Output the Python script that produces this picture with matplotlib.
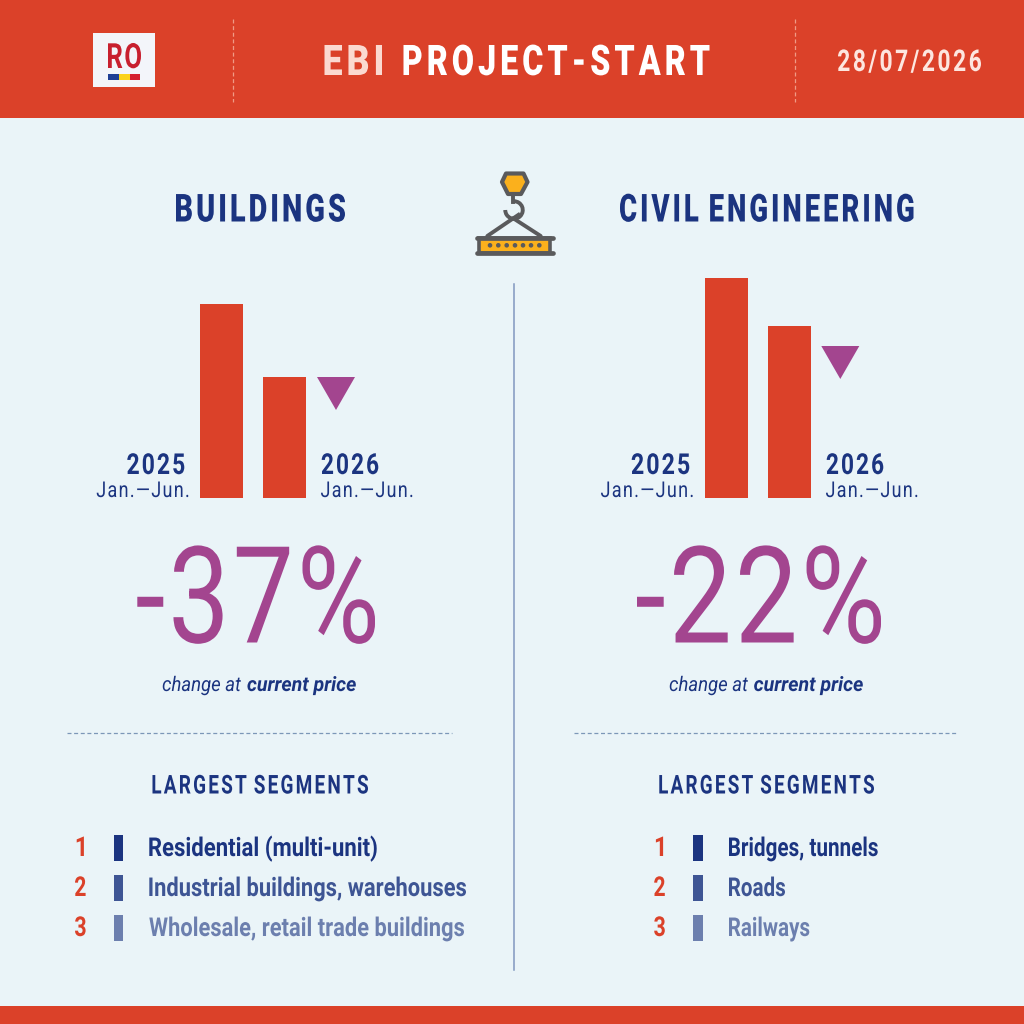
import matplotlib
matplotlib.use("Agg")
import numpy as np
import matplotlib.pyplot as plt
from matplotlib.path import Path
from matplotlib.patches import Rectangle, Polygon, Arc, Circle
from matplotlib.patheffects import AbstractPathEffect
from matplotlib.transforms import IdentityTransform

# values (the chart has no axis, so the unit is arbitrary)
years = ["2025", "2026"]
period = "Jan.\u2014Jun."
buildings_vals = [194, 121]
civil_vals = [220, 172]
changes = ["-37%", "-22%"]
panel_titles = ["BUILDINGS", "CIVIL ENGINEERING"]
buildings_segments = ["Residential (multi-unit)", "Industrial buildings, warehouses", "Wholesale, retail trade buildings"]
civil_segments = ["Bridges, tunnels", "Roads", "Railways"]
ranks = ["1", "2", "3"]

RED = "#db4129"
BG = "#eaf4f8"
NAVY = "#1b3480"
PURPLE = "#a3458f"
GREY = "#5a5a5c"
AMBER = "#fbb01c"
seg_colors = ["#1b3480", "#3e5594", "#6c7fae"]

fig = plt.figure(figsize=(10.24, 10.24), dpi=100, facecolor=BG)
ax = fig.add_axes([0, 0, 1, 1])
ax.set_xlim(0, 1024)
ax.set_ylim(1024, 0)
ax.axis("off")


class FitWidth(AbstractPathEffect):
    # no condensed font here, so squeeze the glyph outlines to span x0..x1 with some tracking
    def __init__(self, x0, x1, track=0):
        self.x0, self.x1, self.track = x0, x1, track

    def draw_path(self, renderer, gc, tpath, affine, rgbFace=None):
        p = affine.transform_path(tpath)
        v = p.vertices.copy()
        codes = p.codes
        solid = codes != Path.CLOSEPOLY
        starts = list(np.where(codes == Path.MOVETO)[0]) + [len(v)]
        # contours overlapping in x belong to one glyph
        glyphs = []
        right = -1e9
        for a, b in zip(starts[:-1], starts[1:]):
            xs = v[a:b][solid[a:b], 0]
            if xs.min() >= right:
                glyphs.append([])
            glyphs[-1].append((a, b))
            right = max(right, xs.max())
        left = v[solid, 0].min()
        w = v[solid, 0].max() - left
        sx = (self.x1 - self.x0 - (len(glyphs) - 1) * self.track) / w
        v[:, 0] = self.x0 + (v[:, 0] - left) * sx
        for k, g in enumerate(glyphs):
            for a, b in g:
                v[a:b, 0] += k * self.track
        renderer.draw_path(gc, Path(v, codes), IdentityTransform(), rgbFace)


def label(s, x0, x1, y, size, color=NAVY, weight="bold", track=0, style="normal"):
    t = ax.text((x0 + x1) / 2, y, s, fontsize=size, color=color, fontweight=weight, ha="center",
                va="baseline", family="Roboto", style=style)
    t.set_path_effects([FitWidth(x0, x1, track)])
    return t


# header and footer
ax.add_patch(Rectangle((0, 0), 1024, 118, color=RED, lw=0))
ax.add_patch(Rectangle((0, 1006), 1024, 18, color=RED, lw=0))
for x in [232.8, 794.8]:
    ax.plot([x, x], [19, 102], color="#f09a85", lw=0.9, ls=(0, (3.2, 2.1)))

# logo
ax.add_patch(Rectangle((93, 33), 62, 54, color="#f3f5fa", lw=0))
label("RO", 108, 141, 68, 25, "#c8202f", track=1.5)
for x, c in zip([108, 119, 129.5], ["#1f3f95", "#fbd21c", "#d5202f"]):
    ax.add_patch(Rectangle((x, 74), 10.7, 6, color=c, lw=0))

# title
label("EBI", 324.5, 382, 75, 30.4, "#fbd9d0", "black", track=4)
label("PROJECT-START", 403.5, 709.5, 75, 30.4, "white", "black", track=4)
label("28/07/2026", 838, 981, 71, 21.6, "#fde6df", "bold", track=2.5)

# crane icon
ax.add_patch(Polygon([(506, 173.5), (523.5, 173.5), (527.5, 182), (521, 194), (508, 194), (502, 182)],
                     closed=True, fc=AMBER, ec=GREY, lw=3, joinstyle="round"))
ax.plot([513.3, 513.3], [196, 201.5], color=GREY, lw=2.8)
ax.add_patch(Arc((514, 210), 17.5, 17.5, theta1=-90, theta2=180, color=GREY, lw=2.8))
ax.plot([487.3, 513.3, 540.7], [236, 218.3, 236], color=GREY, lw=2.8, solid_capstyle="round")
ax.plot([513.3, 518.5], [218.3, 214.8], color=GREY, lw=2.8)
ax.add_patch(Rectangle((479, 238), 71, 14.5, fc=AMBER, ec=GREY, lw=2.6))
ax.plot([476.5, 553], [237.7, 237.7], color=GREY, lw=3.4, solid_capstyle="round")
ax.plot([476.5, 553], [252.5, 252.5], color=GREY, lw=3.4, solid_capstyle="round")
for x in [490, 498.3, 506.7, 515, 523, 531, 539.3]:
    ax.add_patch(Circle((x, 245.3), 2.3, color=GREY, lw=0))

# centre divider
ax.plot([514.3, 514.3], [284, 970], color="#8197bf", lw=1.1)


def add_bars(left, vals):
    # y scale shared by both panels: 0 at pixel 498, 220 at pixel 278
    bar_ax = fig.add_axes([left / 1024, 1 - 498 / 1024, 106 / 1024, 220 / 1024])
    bar_ax.set_xlim(0, 106)
    bar_ax.set_ylim(0, 220)
    bar_ax.axis("off")
    bar_ax.bar([21.5, 84.5], vals, width=43, color=RED)


# layout of the two panels, pixel positions measured on the reference
panels = [
    dict(vals=buildings_vals, segs=buildings_segments, bar=200, tri=(317, 377), title=(176, 345),
         y0=(127.3, 184.3), y1=(321.7, 378.3), p0=(96.7, 188.3), p1=(321, 412.3), big=(137.3, 375),
         cap0=(162.7, 241), cap1=(247.3, 356), rule=(67, 452), head=(152.5, 368), rank=80.3, mark=113.7,
         seg_x=149.3, seg_end=[376.7, 466, 464]),
    dict(vals=civil_vals, segs=civil_segments, bar=705, tri=(821.3, 346), title=(620, 913.5),
         y0=(631.7, 689.3), y1=(826.7, 883.3), p0=(601, 692.7), p1=(826, 917.3), big=(637, 881),
         cap0=(669.7, 748), cap1=(754, 863), rule=(574, 958), head=(659.3, 874), rank=659.5, mark=693,
         seg_x=729, seg_end=[877.7, 785, 809.3]),
]
for i, pn in enumerate(panels):
    label(panel_titles[i], *pn["title"], 221.5, 27.8, NAVY, "black", track=3)
    add_bars(pn["bar"], pn["vals"])
    tx, ty = pn["tri"]
    ax.add_patch(Polygon([(tx, ty), (tx + 38, ty), (tx + 19, ty + 33)], closed=True, fc=PURPLE, ec="none"))
    # year labels
    label(years[0], *pn["y0"], 474, 20.8, NAVY, "bold", track=2)
    label(years[1], *pn["y1"], 474, 20.8, NAVY, "bold", track=2)
    label(period, *pn["p0"], 497, 15.7, NAVY, "normal", track=1.3)
    label(period, *pn["p1"], 497, 15.7, NAVY, "normal", track=1.3)
    # big number
    label(changes[i], *pn["big"], 642.5, 97, PURPLE, "normal", track=3)
    # caption, regular then bold italic
    label("change at", *pn["cap0"], 691, 14.6, NAVY, "normal", style="italic")
    label("current price", *pn["cap1"], 691, 14.6, NAVY, "bold", style="italic")
    ax.plot(pn["rule"], [732.5, 732.5], color="#7c97b8", lw=0.9, ls=(0, (3.2, 2.1)))
    label("LARGEST SEGMENTS", *pn["head"], 793.5, 18.7, NAVY, "bold", track=2.2)
    # ranking
    for j in range(3):
        y = 856 + 40 * j
        half = 3.6 if j == 0 else 5.3
        label(ranks[j], pn["rank"] - half, pn["rank"] + half, y, 19.7, RED, "bold")
        ax.add_patch(Rectangle((pn["mark"], y - 21), 9.7, 25.7, color=seg_colors[j], lw=0))
        label(pn["segs"][j], pn["seg_x"], pn["seg_end"][j], y, 18.7, seg_colors[j], "bold")

fig.savefig("out.png", dpi=100, facecolor=BG)
